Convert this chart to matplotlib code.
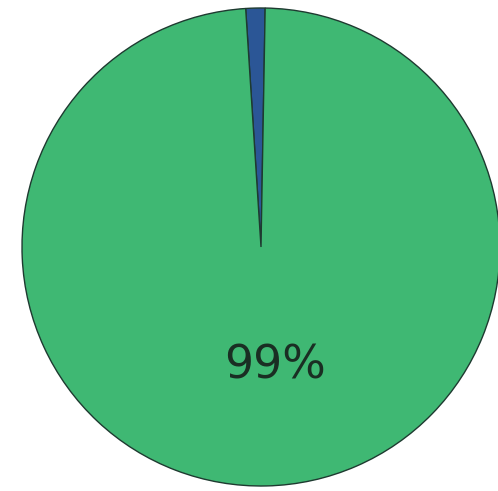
import matplotlib.pyplot as plt

# pie shares (percent), blue slice first, counterclockwise from the top
labels = ["Blue", "Green"]
shares = [1.3, 98.7]
colors = ["#2b5696", "#3fb873"]


def show_pct(pct):
    # only label the big slice
    if pct < 5:
        return ""
    return "%.0f%%" % pct


fig = plt.figure(figsize=(4.98, 4.91), dpi=100)
ax = fig.add_axes([0, 0, 1, 1])

wedges, texts, autotexts = ax.pie(
    shares, colors=colors, startangle=89, counterclock=True,
    autopct=show_pct, pctdistance=0.5,
    wedgeprops=dict(edgecolor="#1e3a30", linewidth=1.0),
    textprops=dict(fontsize=33, color="#1a2e23", family="DejaVu Sans"),
)
for t in autotexts:
    x, y = t.get_position()
    t.set_position((x + 0.045, y))

# circle centre ~ (261, 247) px, radius ~ 239 px
ax.set_aspect("auto")
ax.set_xlim(-261 / 239, (498 - 261) / 239)
ax.set_ylim(-(491 - 247) / 239, 247 / 239)
ax.axis("off")

fig.savefig("out.png", dpi=100)
